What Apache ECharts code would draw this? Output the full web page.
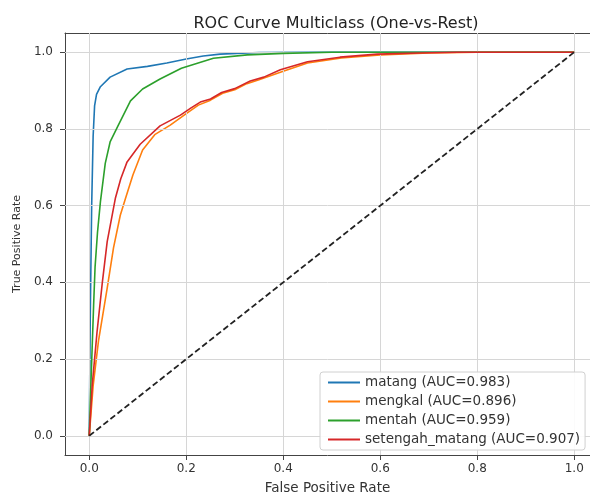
<!DOCTYPE html>
<html>
<head>
<meta charset="utf-8">
<script src="https://cdn.jsdelivr.net/npm/echarts@6/dist/echarts.min.js"></script>
<style>html,body{margin:0;padding:0;background:#fff}#c{width:590px;height:500px}</style>
</head>
<body>
<div id="c"></div>
<script>
const titleText = 'ROC Curve Multiclass (One-vs-Rest)';
const xLabel = 'False Positive Rate';
const yLabel = 'True Positive Rate';
const tickValues = [0, 0.2, 0.4, 0.6, 0.8, 1.0];
const seriesNames = ['matang (AUC=0.983)', 'mengkal (AUC=0.896)', 'mentah (AUC=0.959)', 'setengah_matang (AUC=0.907)'];
const seriesColors = ['#1f77b4', '#ff7f0e', '#2ca02c', '#d62728'];

const matangFpr = [0, 0.002, 0.005, 0.008, 0.011, 0.015, 0.023, 0.043, 0.078, 0.12, 0.16, 0.2, 0.235, 0.27, 0.35, 0.45, 1];
const matangTpr = [0, 0.3, 0.6, 0.78, 0.86, 0.89, 0.91, 0.935, 0.956, 0.963, 0.972, 0.982, 0.99, 0.995, 0.999, 1, 1];

const mengkalFpr = [0, 0.008, 0.019, 0.037, 0.05, 0.064, 0.075, 0.09, 0.11, 0.135, 0.167, 0.2, 0.225, 0.25, 0.275, 0.3, 0.325, 0.35, 0.4, 0.45, 0.52, 0.6, 0.7, 0.8, 1];
const mengkalTpr = [0, 0.13, 0.247, 0.385, 0.49, 0.575, 0.62, 0.68, 0.745, 0.785, 0.81, 0.84, 0.862, 0.875, 0.893, 0.902, 0.918, 0.928, 0.95, 0.972, 0.985, 0.993, 0.998, 1, 1];

const mentahFpr = [0, 0.003, 0.006, 0.009, 0.012, 0.017, 0.023, 0.033, 0.043, 0.06, 0.085, 0.11, 0.146, 0.19, 0.256, 0.326, 0.4, 0.5, 1];
const mentahTpr = [0, 0.12, 0.23, 0.34, 0.44, 0.53, 0.61, 0.71, 0.766, 0.81, 0.873, 0.904, 0.93, 0.958, 0.984, 0.993, 0.997, 1, 1];

const setengahFpr = [0, 0.006, 0.016, 0.027, 0.037, 0.054, 0.065, 0.078, 0.105, 0.146, 0.188, 0.21, 0.229, 0.25, 0.273, 0.3, 0.332, 0.36, 0.394, 0.45, 0.517, 0.594, 0.68, 0.76, 1];
const setengahTpr = [0, 0.13, 0.27, 0.40, 0.506, 0.62, 0.67, 0.714, 0.76, 0.808, 0.836, 0.855, 0.87, 0.878, 0.895, 0.905, 0.925, 0.935, 0.954, 0.975, 0.987, 0.995, 0.998, 1, 1];

const diagX = [0, 1];
const diagY = [0, 1];

function zip(a, b) { return a.map((v, i) => [v, b[i]]); }
const curves = [zip(matangFpr, matangTpr), zip(mengkalFpr, mengkalTpr), zip(mentahFpr, mentahTpr), zip(setengahFpr, setengahTpr)];

const chart = echarts.init(document.getElementById('c'), null, {renderer: 'canvas'});
const font = 'DejaVu Sans';
const gridLines = [];
tickValues.forEach(v => { gridLines.push({xAxis: v}); gridLines.push({yAxis: v}); });

const series = curves.map((d, i) => ({
  name: seriesNames[i], type: 'line', data: d, symbol: 'none', smooth: false,
  lineStyle: {color: seriesColors[i], width: 1.6}, itemStyle: {color: seriesColors[i]},
  z: 3 + i, animation: false
}));
series.unshift({
  name: '_grid', type: 'line', data: [], symbol: 'none', z: 1, silent: true,
  markLine: {silent: true, symbol: 'none', animation: false, label: {show: false},
    lineStyle: {color: '#d6d6d6', width: 1, type: 'solid'}, data: gridLines}
});
series.push({
  name: '_diag', type: 'line', data: zip(diagX, diagY), symbol: 'none', z: 10,
  lineStyle: {color: '#222', width: 1.8, type: [6, 3]}, animation: false
});

const X_MIN = -0.05, X_MAX = 1.0325, Y_MIN = -0.05, Y_MAX = 1.05;
const tickFont = {color: '#333', fontFamily: font, fontSize: 12};

chart.setOption({
  animation: false,
  backgroundColor: '#fff',
  title: {text: titleText, left: 331, top: 11, textAlign: 'center',
    textStyle: {fontFamily: font, fontSize: 16, fontWeight: 'normal', color: '#222'}},
  grid: {left: 65, top: 33, right: 0, bottom: 43, containLabel: false},
  xAxis: [
    {type: 'value', min: X_MIN, max: X_MAX, position: 'bottom', splitLine: {show: false},
      axisLine: {show: true, onZero: false, lineStyle: {color: '#444', width: 1}},
      axisTick: {show: true, length: 5, customValues: tickValues, lineStyle: {color: '#444'}},
      axisLabel: Object.assign({customValues: tickValues, formatter: v => v.toFixed(1), margin: 8}, tickFont),
      name: xLabel, nameLocation: 'middle', nameGap: 26,
      nameTextStyle: {fontFamily: font, fontSize: 13.5, color: '#333'}},
    {type: 'value', min: X_MIN, max: X_MAX, position: 'top', splitLine: {show: false},
      axisLine: {show: true, onZero: false, lineStyle: {color: '#444', width: 1}},
      axisTick: {show: false}, axisLabel: {show: false}}
  ],
  yAxis: [
    {type: 'value', min: Y_MIN, max: Y_MAX, position: 'left', splitLine: {show: false},
      axisLine: {show: true, onZero: false, lineStyle: {color: '#444', width: 1}},
      axisTick: {show: true, length: 5, customValues: tickValues, lineStyle: {color: '#444'}},
      axisLabel: Object.assign({customValues: tickValues, formatter: v => v.toFixed(1), margin: 12}, tickFont),
      name: yLabel, nameLocation: 'middle', nameGap: 39,
      nameTextStyle: {fontFamily: font, fontSize: 11, color: '#333'}}
  ],
  legend: {
    data: seriesNames, orient: 'vertical', left: 320, top: 372, z: 20,
    icon: 'rect', itemWidth: 32, itemHeight: 2, itemGap: 4,
    backgroundColor: 'rgba(255,255,255,0.9)', borderColor: '#d0d0d0', borderWidth: 1, borderRadius: 3,
    padding: [3, 5, 3, 8],
    textStyle: {fontFamily: font, fontSize: 13.5, color: '#333', lineHeight: 15},
    selectedMode: false
  },
  series: series
});
</script>
</body>
</html>
